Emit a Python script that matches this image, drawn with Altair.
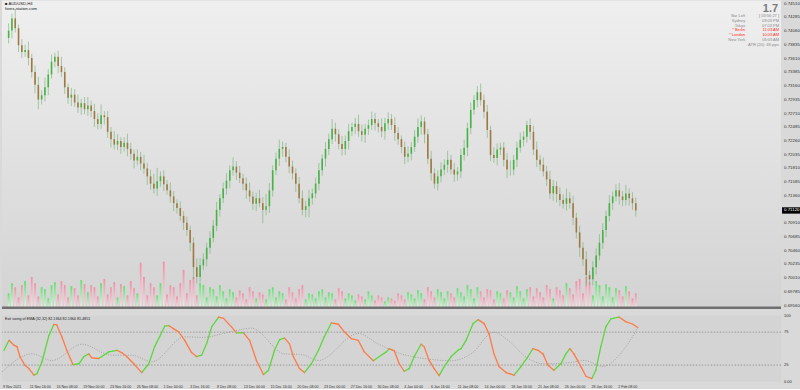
import altair as alt
import pandas as pd

# ---------------- data ----------------
first_open = 0.7395
closes = [
    0.7407, 0.7427, 0.7411, 0.7383, 0.7372, 0.7375, 0.7362, 0.7339, 0.7318, 0.7294,
    0.7301, 0.7314, 0.7335, 0.7356, 0.7364, 0.7349, 0.7339, 0.7314, 0.7297, 0.7302,
    0.7289, 0.7281, 0.7288, 0.7278, 0.7284, 0.7275, 0.7262, 0.7254, 0.7268, 0.7265,
    0.7241, 0.7229, 0.7220, 0.7226, 0.7216, 0.7223, 0.7213, 0.7205, 0.7194, 0.7200,
    0.7189, 0.7181, 0.7168, 0.7156, 0.7148, 0.7160, 0.7168, 0.7155, 0.7145, 0.7135,
    0.7124, 0.7116, 0.7103, 0.7092, 0.7080, 0.7059, 0.7019, 0.7003, 0.7022, 0.7032,
    0.7051, 0.7067, 0.7087, 0.7113, 0.7132, 0.7148, 0.7161, 0.7178, 0.7184, 0.7174,
    0.7165, 0.7156, 0.7145, 0.7135, 0.7123, 0.7132, 0.7124, 0.7113, 0.7119, 0.7145,
    0.7178, 0.7197, 0.7213, 0.7216, 0.7200, 0.7184, 0.7173, 0.7156, 0.7132, 0.7113,
    0.7119, 0.7132, 0.7140, 0.7156, 0.7178, 0.7197, 0.7213, 0.7229, 0.7246, 0.7237,
    0.7221, 0.7213, 0.7226, 0.7242, 0.7249, 0.7254, 0.7242, 0.7236, 0.7246, 0.7252,
    0.7262, 0.7255, 0.7249, 0.7242, 0.7255, 0.7262, 0.7252, 0.7239, 0.7229, 0.7216,
    0.7200, 0.7205, 0.7216, 0.7233, 0.7249, 0.7258, 0.7237, 0.7197, 0.7173, 0.7156,
    0.7168, 0.7179, 0.7187, 0.7195, 0.7179, 0.7171, 0.7176, 0.7203, 0.7215, 0.7247,
    0.7277, 0.7293, 0.7306, 0.7293, 0.7274, 0.7244, 0.7203, 0.7198, 0.7212, 0.7215,
    0.7195, 0.7179, 0.7179, 0.7195, 0.7215, 0.7228, 0.7233, 0.7252, 0.7241, 0.7212,
    0.7195, 0.7187, 0.7176, 0.7163, 0.7140, 0.7152, 0.7139, 0.7129, 0.7123, 0.7132,
    0.7124, 0.7100, 0.7076, 0.7051, 0.7032, 0.7006, 0.6999, 0.7019, 0.7038, 0.7059,
    0.7080, 0.7103, 0.7124, 0.7135, 0.7145, 0.7135, 0.7129, 0.7140, 0.7132, 0.7124,
    0.7112,
]
wick_up_pips = [
    12, 8, 15, 6, 10, 9, 14, 7, 11, 13, 8, 16, 9, 12, 7, 10, 15, 8, 6, 11,
    9, 13, 7, 10, 14, 8, 12, 9, 18, 7, 10, 8, 13, 11, 6, 9, 15, 10, 7, 12,
    8, 14, 9, 11, 16, 22, 8, 10, 7, 13, 9, 6, 11, 8, 10, 7, 9, 14, 12, 10,
    8, 11, 9, 13, 7, 10, 12, 8, 15, 9, 11, 7, 10, 13, 8, 9, 14, 10, 20, 12,
    8, 10, 15, 9, 7, 12, 10, 8, 11, 13, 9, 14, 8, 10, 12, 7, 11, 9, 16, 10,
    8, 13, 9, 12, 7, 10, 15, 11, 8, 9, 12, 10, 7, 14, 9, 11, 8, 13, 10, 6,
    9, 12, 8, 11, 14, 10, 7, 9, 13, 8, 10, 12, 9, 15, 8, 11, 7, 10, 13, 9,
    12, 8, 10, 14, 9, 11, 7, 13, 10, 8, 9, 11, 15, 8, 10, 12, 9, 7, 11, 10,
    13, 8, 12, 9, 14, 10, 8, 11, 9, 16, 10, 12, 8, 11, 9, 13, 7, 10, 12, 14,
    11, 9, 13, 8, 10, 12, 9, 14, 8, 10,
    9,
]
wick_dn_pips = [
    9, 13, 7, 11, 10, 8, 12, 9, 14, 16, 8, 10, 13, 7, 9, 12, 8, 11, 10, 14,
    7, 9, 12, 8, 11, 10, 13, 9, 8, 12, 10, 14, 8, 9, 11, 7, 12, 10, 13, 8,
    11, 9, 14, 10, 8, 12, 9, 11, 7, 10, 13, 9, 8, 12, 10, 14, 20, 11, 9, 8,
    12, 10, 7, 9, 11, 8, 10, 13, 9, 12, 8, 11, 14, 9, 10, 12, 7, 22, 9, 11,
    10, 8, 12, 13, 9, 11, 10, 14, 8, 9, 12, 18, 10, 8, 11, 9, 13, 10, 8, 12,
    9, 11, 10, 14, 8, 12, 9, 11, 13, 10, 8, 12, 9, 10, 14, 11, 8, 13, 9, 10,
    12, 9, 11, 8, 10, 13, 15, 9, 12, 8, 11, 10, 9, 13, 8, 12, 10, 11, 9, 14,
    10, 8, 12, 9, 11, 13, 10, 8, 12, 9, 11, 14, 10, 9, 12, 8, 11, 10, 13, 9,
    12, 10, 8, 11, 9, 12, 14, 10, 8, 11, 9, 12, 10, 15, 11, 18, 9, 10, 12, 8,
    10, 12, 9, 11, 8, 13, 10, 9, 12, 11,
    10,
]
volumes = [
    1400, 2400, 2000, 1000, 2200, 2600, 1200, 3000, 2400, 1100, 2000, 1800,
    900, 2200, 2500, 1300, 2600, 2200, 1000, 2100, 1900, 1200, 2700, 2300,
    1500, 2200, 2000, 1100, 2400, 2800, 1300, 2000, 2500, 1000, 2300, 2100,
    1200, 2600, 1900, 1400, 4400, 3000, 1200, 2400, 2000, 1200, 2400, 4500,
    1300, 2200, 2000, 1100, 2400, 3700, 1400, 2700, 3000, 1200, 2400, 2200,
    1000, 2000, 1800, 1100, 2200, 1600, 900, 1800, 1500, 1000, 1700, 1400,
    800, 2000, 1600, 900, 1500, 1300, 800, 1800, 2000, 1000, 1600, 1400,
    800, 2000, 1500, 900, 1800, 2200, 800, 1400, 1300, 900, 1600, 1800,
    1000, 1500, 1400, 800, 1900, 1600, 900, 1400, 1200, 700, 1300, 1100,
    800, 1600, 1200, 700, 1200, 1000, 600, 1000, 900, 700, 1400, 1200,
    800, 1500, 1300, 900, 1700, 1400, 800, 2000, 1600, 1000, 1800, 1500,
    900, 1600, 1400, 1000, 1900, 1500, 1100, 2200, 1800, 900, 2000, 1600,
    1000, 1800, 1700, 800, 1600, 1400, 900, 1700, 1500, 1000, 2100, 1600,
    900, 1800, 2000, 1100, 1900, 1500, 1000, 2200, 1800, 900, 2000, 1700,
    1200, 2400, 1900, 1300, 2600, 2800, 1400, 3000, 2500, 1200, 2600, 2200,
    1100, 2300, 2000, 1000, 1900, 1700, 1100, 2100, 1600, 900, 1400,
]

# oscillator (H4 bar index, value)
osc_bar = [1.2, 4.2, 7.2, 9, 10.7, 13.7, 16.1, 19.1, 20.9, 23.9, 28.1, 31, 32.8, 35.8,
           38.8, 42.4, 46, 49, 51.9, 53.7, 57.9, 59.7, 63.9, 68.7, 71.6, 74.6, 78.8,
           83.6, 87.8, 91.3, 94.3, 97.3, 99.7, 102.7, 105.7, 109.3, 113.4, 116.4,
           119.4, 122.4, 125.4, 129.6, 132.5, 137.3, 140.3, 144.5, 148.1, 152.2,
           156.4, 159.4, 163, 166, 169, 171.9, 174.3, 177.9, 180.9, 185.1, 189.3,
           192.8, 197, 201.2, 204.8, 209, 213.1, 216.7, 222.1, 225.7, 229.9, 231.6,
           234.6, 237.6, 240.6, 243.6, 246.6, 250.7, 252.5, 255.5, 258.5, 261.5,
           264.5, 268.7, 272.8, 274.6, 277.6, 281.8, 284.8, 288.4, 291.3, 294.3,
           297.3, 301.5, 306.3, 310.4, 314.6, 317.6, 320.6, 323.6, 326.6, 330.1,
           334.3, 337.3, 339.7, 342.1, 346.3, 349.3, 352.8, 355.2, 358.2, 361.2,
           364.2, 369, 373.1, 377.3, 380.3]
osc_val = [47.5, 62.6, 55, 53, 38, 24.7, 19.7, 9.6, 12, 30, 70, 86.8, 86, 68,
           47, 25.7, 27, 38, 42, 36, 35, 38, 45, 47.5, 44, 38, 27,
           13.6, 27, 53, 68, 84, 85, 80, 75.5, 62.6, 44, 38,
           40, 57.6, 83, 98, 96, 83, 74, 74, 62.6, 32,
           10.6, 17, 47.5, 63.6, 66, 57.6, 38, 19.7, 13.6, 27, 47.5,
           68, 89, 87, 75.5, 65, 62.6, 45, 31.6, 38, 45, 50,
           47, 27, 15.6, 19.7, 38, 56.6, 53, 32, 19.7, 9,
           22.7, 38, 47.5, 50, 62.6, 88, 94, 88, 72.7, 42,
           22.7, 13.6, 9.6, 22.7, 38, 50, 47.5, 42, 24.7, 17,
           27, 42, 50, 42, 22.7, 8, 4.5, 17, 53, 83,
           95, 98, 91, 87, 82.1]
sig_bar = [0, 17.9, 29.9, 47.8, 65.7, 77.6, 89.6, 109.3, 119.4, 139.1, 149.3, 169,
           179.1, 189.3, 213.1, 225.1, 238.8, 252.5, 268.7, 280.6, 294.3, 302.7,
           314.6, 324.2, 340.3, 348.1, 360, 368.4, 374.3, 380.3]
sig_val = [14.6, 42, 32, 56.6, 40, 40, 30, 68, 67, 77, 81, 42,
           41, 32, 73, 57, 42, 35, 31.6, 42, 75, 62.6,
           35, 27, 29, 32, 23, 38, 57, 81.5]
levels = [25, 75]

time_labels = ["9 Nov 2021", "11 Nov 16:00", "16 Nov 08:00", "19 Nov 00:00",
               "23 Nov 16:00", "26 Nov 08:00", "1 Dec 00:00", "3 Dec 16:00",
               "8 Dec 08:00", "13 Dec 00:00", "15 Dec 16:00", "20 Dec 08:00",
               "23 Dec 00:00", "27 Dec 16:00", "30 Dec 08:00", "4 Jan 00:00",
               "6 Jan 16:00", "11 Jan 08:00", "14 Jan 00:00", "18 Jan 16:00",
               "21 Jan 08:00", "26 Jan 00:00", "28 Jan 16:00", "2 Feb 08:00"]
time_tick_bars = [16 * k for k in range(len(time_labels))]
price_ticks = [0.74510, 0.74285, 0.74060, 0.73835, 0.73610, 0.73385, 0.73160,
               0.72935, 0.72710, 0.72485, 0.72260, 0.72035, 0.71810, 0.71585,
               0.71360, 0.71135, 0.70910, 0.70685, 0.70460, 0.70235, 0.70010,
               0.69785, 0.69560]
osc_ticks = [0, 25, 75, 100]
osc_tick_labels = ["0.00", "25", "75", "100"]

info_labels = ["Bar Left", "Sydney", "Tokyo", "* Berlin", "* London", "New York"]
info_values = ["[ 03:56:27 ]", "09:03 PM", "07:03 PM", "11:03 AM", "10:03 AM", "05:03 AM"]
info_colors = ["#8a8a8a", "#8a8a8a", "#8a8a8a", "#ff2a2a", "#ff2a2a", "#8a8a8a"]

# ---------------- tables ----------------
opens = [first_open] + closes[:-1]
rows = []
for i, (o, c) in enumerate(zip(opens, closes)):
    rows.append({
        "x": 2 * i + 1, "open": o, "close": c,
        "high": max(o, c) + wick_up_pips[i] * 0.0001,
        "low": min(o, c) - wick_dn_pips[i] * 0.0001,
        "dir": "up" if c >= o else "dn", "vol": volumes[i],
    })
candles = pd.DataFrame(rows)

segs = []
for i in range(len(osc_bar) - 1):
    segs.append({"x": osc_bar[i], "x2": osc_bar[i + 1], "v": osc_val[i], "v2": osc_val[i + 1],
                 "sdir": "rise" if osc_val[i + 1] >= osc_val[i] else "fall"})
segs = pd.DataFrame(segs)
sig = pd.DataFrame({"x": sig_bar, "v": sig_val})
lev = pd.DataFrame({"v": levels})
last = pd.DataFrame({"close": [closes[-1]]})
one = pd.DataFrame({"a": [0]})
pticks = pd.DataFrame({"p": price_ticks})
tticks = pd.DataFrame({"x": time_tick_bars, "lab": time_labels})
oticks = pd.DataFrame({"v": osc_ticks, "lab": osc_tick_labels})

W = 781
PH = 308
IH = 66
XD = [0, 466]
FONT = "Liberation Sans"
xs = alt.Scale(domain=XD, nice=False, zero=False)
ps = alt.Scale(domain=[0.69525, 0.74564], nice=False, zero=False)
os_ = alt.Scale(domain=[0, 100], nice=False, zero=False)


def grad(top, bottom):
    return alt.LinearGradient(gradient="linear", x1=0, x2=0, y1=0, y2=1,
                              stops=[alt.GradientStop(color=top, offset=0),
                                     alt.GradientStop(color=bottom, offset=1)])


def tick_axis(values, orient):
    return alt.Axis(orient=orient, values=values, labels=False, title=None, tickSize=2,
                    tickColor="#555555", domainColor="#6a6a6a", domainWidth=1.5, grid=False)


# ---------------- price pane ----------------
bg = alt.Chart(one).mark_rect(color=grad("#efefef", "#d3d3d3")).encode(
    x=alt.value(0), x2=alt.value(W), y=alt.value(0), y2=alt.value(PH))

vscale = alt.Scale(domain=[0, 30000], nice=False)
vol_g = alt.Chart(candles).transform_filter("datum.dir == 'up'").mark_bar(
    width=1.8, color=grad("#62de6c", "#e2f5e2")).encode(
    x=alt.X("x:Q", scale=xs, axis=None),
    y=alt.Y("vol:Q", scale=vscale, axis=None))
vol_r = alt.Chart(candles).transform_filter("datum.dir == 'dn'").mark_bar(
    width=1.8, color=grad("#f08fa6", "#f7e3e7")).encode(
    x=alt.X("x:Q", scale=xs, axis=None),
    y=alt.Y("vol:Q", scale=vscale, axis=None))
vol_layer = alt.layer(vol_g, vol_r)

wicks = alt.Chart(candles).mark_rule(strokeWidth=1, opacity=0.55, color="#6aa86a").encode(
    x=alt.X("x:Q", scale=xs, axis=None),
    y=alt.Y("low:Q", scale=ps, axis=tick_axis(price_ticks, "right")),
    y2="high:Q")
bodies_up = alt.Chart(candles).transform_filter("datum.dir == 'up'").mark_bar(
    width=1.6, color="#45b445").encode(
    x=alt.X("x:Q", scale=xs, axis=None),
    y=alt.Y("open:Q", scale=ps, axis=None), y2="close:Q")
bodies_dn = alt.Chart(candles).transform_filter("datum.dir == 'dn'").mark_bar(
    width=1.6, color="#a07842").encode(
    x=alt.X("x:Q", scale=xs, axis=None),
    y=alt.Y("open:Q", scale=ps, axis=None), y2="close:Q")
plabels = alt.Chart(pticks).mark_text(align="left", baseline="middle", fontSize=4.4,
                                      font=FONT, color="#303030").encode(
    x=alt.value(W + 3), y=alt.Y("p:Q", scale=ps, axis=None),
    text=alt.Text("p:Q", format=".5f"))
box = alt.Chart(last).transform_calculate(
    top="datum.close + 0.00052", bot="datum.close - 0.00052").mark_rect(color="black").encode(
    x=alt.value(W + 1), x2=alt.value(800), y=alt.Y("top:Q", scale=ps, axis=None), y2="bot:Q")
box_t = alt.Chart(last).mark_text(align="left", baseline="middle", fontSize=4.4,
                                  font=FONT, color="white").encode(
    x=alt.value(W + 3), y=alt.Y("close:Q", scale=ps, axis=None),
    text=alt.Text("close:Q", format=".5f"))
sep = alt.Chart(one).mark_rule(color="#707070", strokeWidth=2.5).encode(
    x=alt.value(0), x2=alt.value(W), y=alt.value(PH))
price_layers = alt.layer(wicks, bodies_up, bodies_dn, plabels, box, box_t)

texts = [
    alt.Chart(one).mark_text(align="left", baseline="top", fontSize=4.2, font=FONT,
                             color="#202020", text="■ AUDUSD,H4").encode(
        x=alt.value(3), y=alt.value(2)),
    alt.Chart(one).mark_text(align="left", baseline="top", fontSize=4.2, font=FONT,
                             color="#202020", text="forex-station.com").encode(
        x=alt.value(3), y=alt.value(6.5)),
    alt.Chart(one).mark_text(align="right", baseline="alphabetic", fontSize=11,
                             fontWeight="bold", font=FONT, color="#7a7a7a", text="1.7").encode(
        x=alt.value(778), y=alt.value(12)),
]
for k, (lab, val, col) in enumerate(zip(info_labels, info_values, info_colors)):
    yy = 15.5 + k * 4.8
    texts.append(alt.Chart(one).mark_text(align="right", baseline="middle", fontSize=4,
                                          font=FONT, color=col, text=lab).encode(
        x=alt.value(745), y=alt.value(yy)))
    texts.append(alt.Chart(one).mark_text(align="right", baseline="middle", fontSize=4,
                                          font=FONT, color=col, text=val).encode(
        x=alt.value(779), y=alt.value(yy)))
texts.append(alt.Chart(one).mark_text(align="right", baseline="middle", fontSize=4,
                                      font=FONT, color="#8a8a8a", text="ATR (20): 48 pips").encode(
    x=alt.value(779), y=alt.value(15.5 + 6 * 4.8)))

price = alt.layer(bg, vol_layer, price_layers, sep, *texts).resolve_scale(
    y="independent").properties(width=W, height=PH)

# ---------------- indicator pane ----------------
ibg = alt.Chart(one).mark_rect(color="#d4d4d4").encode(
    x=alt.value(0), x2=alt.value(W), y=alt.value(0), y2=alt.value(IH))
lev_r = alt.Chart(lev).mark_rule(color="#8c8c8c", strokeDash=[1.5, 1.5], strokeWidth=0.8).encode(
    y=alt.Y("v:Q", scale=os_, axis=tick_axis(osc_ticks, "right")))
sig_l = alt.Chart(sig).mark_line(color="#9a9a9a", strokeDash=[1, 1.5], strokeWidth=0.9,
                                 interpolate="monotone").encode(
    x=alt.X("x:Q", scale=xs, axis=alt.Axis(
        values=time_tick_bars, labels=False, title=None, tickSize=2, tickColor="#555555",
        domainColor="#6a6a6a", domainWidth=1.2, grid=False)),
    y=alt.Y("v:Q", scale=os_, axis=None))
osc_up = alt.Chart(segs).transform_filter("datum.sdir == 'rise'").mark_rule(
    strokeWidth=1.3, strokeCap="round", color="#5bd83c").encode(
    x=alt.X("x:Q", scale=xs, axis=None), x2="x2:Q",
    y=alt.Y("v:Q", scale=os_, axis=None), y2="v2:Q")
osc_dn = alt.Chart(segs).transform_filter("datum.sdir == 'fall'").mark_rule(
    strokeWidth=1.3, strokeCap="round", color="#ff7a45").encode(
    x=alt.X("x:Q", scale=xs, axis=None), x2="x2:Q",
    y=alt.Y("v:Q", scale=os_, axis=None), y2="v2:Q")
olabels = alt.Chart(oticks).mark_text(align="left", baseline="middle", fontSize=4,
                                      font=FONT, color="#303030").encode(
    x=alt.value(W + 3), y=alt.Y("v:Q", scale=os_, axis=None), text="lab:N")
tlabels = alt.Chart(tticks).mark_text(align="left", baseline="top", fontSize=3.6,
                                      font=FONT, color="#303030", dx=1).encode(
    x=alt.X("x:Q", scale=xs, axis=None), y=alt.value(IH + 3), text="lab:N")
hdr = alt.Chart(one).mark_text(align="left", baseline="top", fontSize=3.7, font=FONT,
                               color="#202020",
                               text="Exit swing of EMA (32,32) 82.1364 82.1364 81.4851").encode(
    x=alt.value(3), y=alt.value(1.5))
ind = alt.layer(ibg, lev_r, sig_l, osc_up, osc_dn, olabels, tlabels, hdr).properties(
    width=W, height=IH)

chart = alt.vconcat(price, ind, spacing=4).properties(
    padding={"left": 0, "top": 0, "right": 0, "bottom": 0}
).resolve_scale(color="independent").configure(background="#d9d9d9").configure_view(stroke=None)

chart.save("out.html", embed_options={"renderer": "svg", "actions": False})
